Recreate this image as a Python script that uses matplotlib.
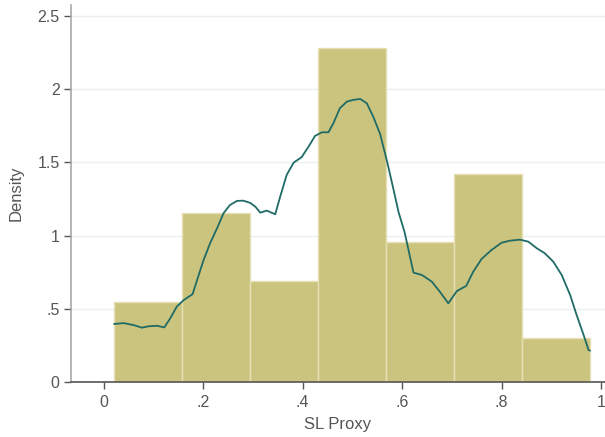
import numpy as np
import matplotlib.pyplot as plt

plt.rcParams['font.family'] = ['Liberation Sans', 'DejaVu Sans']

# histogram bins (left edge of the first bin, common width) and densities
bin_start = 0.0209
bin_width = 0.1366
bar_heights = [0.550, 1.155, 0.691, 2.278, 0.959, 1.421, 0.300]

# kernel density curve
kde_x = [0.021, 0.040, 0.060, 0.077, 0.090, 0.107, 0.122, 0.134, 0.147, 0.161,
         0.179, 0.189, 0.201, 0.214, 0.228, 0.241, 0.254, 0.268, 0.281, 0.295,
         0.305, 0.315, 0.328, 0.345, 0.355, 0.368, 0.382, 0.398, 0.412, 0.425,
         0.439, 0.452, 0.462, 0.475, 0.489, 0.502, 0.516, 0.529, 0.542, 0.556,
         0.571, 0.583, 0.593, 0.605, 0.623, 0.640, 0.660, 0.676, 0.693, 0.710,
         0.729, 0.743, 0.760, 0.779, 0.800, 0.817, 0.837, 0.854, 0.871, 0.887,
         0.904, 0.921, 0.938, 0.951, 0.965, 0.975, 0.978]
kde_y = [0.398, 0.404, 0.391, 0.373, 0.382, 0.386, 0.375, 0.437, 0.516, 0.561,
         0.602, 0.709, 0.834, 0.948, 1.050, 1.153, 1.209, 1.237, 1.239, 1.223,
         1.198, 1.157, 1.171, 1.146, 1.266, 1.414, 1.498, 1.535, 1.607, 1.680,
         1.705, 1.705, 1.767, 1.869, 1.914, 1.926, 1.932, 1.903, 1.812, 1.692,
         1.490, 1.312, 1.160, 1.025, 0.748, 0.732, 0.686, 0.618, 0.539, 0.622,
         0.658, 0.754, 0.842, 0.900, 0.952, 0.966, 0.973, 0.959, 0.914, 0.880,
         0.823, 0.732, 0.595, 0.459, 0.323, 0.220, 0.216]

x_ticks = [0, 0.2, 0.4, 0.6, 0.8, 1.0]
x_labels = ["0", ".2", ".4", ".6", ".8", "1"]
y_ticks = [0, 0.5, 1, 1.5, 2, 2.5]
y_labels = ["0", ".5", "1", "1.5", "2", "2.5"]

fig = plt.figure(figsize=(6.05, 4.37), dpi=100)
ax = fig.add_axes([0.117, 0.125, 0.883, 0.864])

lefts = bin_start + bin_width * np.arange(len(bar_heights))
ax.bar(lefts, bar_heights, width=bin_width, align="edge",
       color="#CBC47F", edgecolor="#E6E0B4", linewidth=1.0, zorder=2)
ax.plot(kde_x, kde_y, color="#1F6B66", linewidth=1.3, zorder=3,
        solid_joinstyle="round", solid_capstyle="round")

ax.set_xlim(-0.066, 1.008)
ax.set_ylim(0, 2.574)

ax.set_xticks(x_ticks)
ax.set_xticklabels(x_labels)
ax.set_yticks(y_ticks)
ax.set_yticklabels(y_labels)

# light horizontal grid
for yv in y_ticks[1:]:
    ax.axhline(yv, color="#EAF0F0", linewidth=1.0, zorder=1)

for s in ["top", "right"]:
    ax.spines[s].set_visible(False)
ax.spines["left"].set_color("#A8A8A8")
ax.spines["left"].set_linewidth(1.2)
ax.spines["bottom"].set_color("#555555")
ax.spines["bottom"].set_linewidth(1.2)

ax.tick_params(axis="both", colors="#555555", labelsize=11.5, length=5, width=1.0)
ax.tick_params(axis="y", pad=3)
ax.tick_params(axis="x", pad=4)

ax.set_xlabel("SL Proxy", fontsize=12, color="#555555", labelpad=5)
ax.set_ylabel("Density", fontsize=12, color="#555555", labelpad=10)

fig.savefig("out.png", dpi=100)
